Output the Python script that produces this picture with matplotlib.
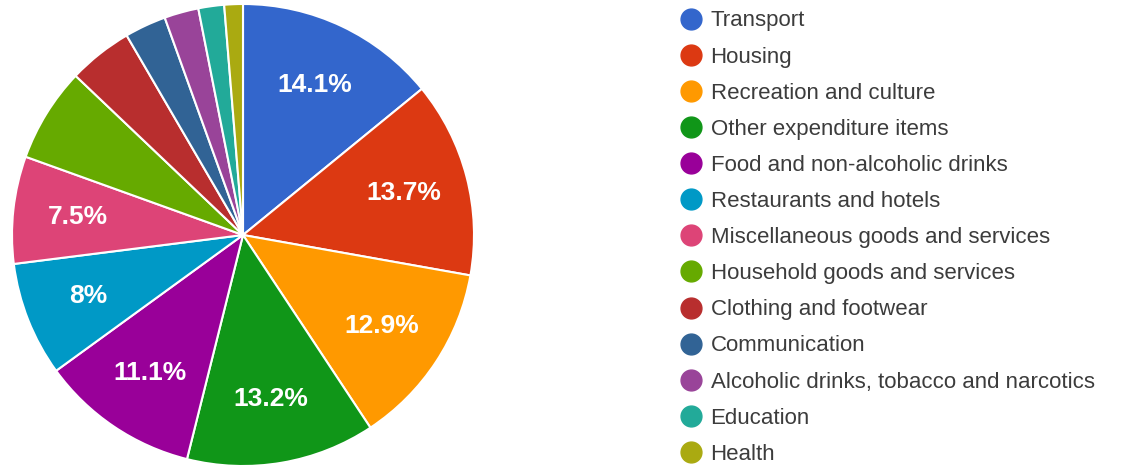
import matplotlib
matplotlib.use("Agg")
import matplotlib.pyplot as plt
from matplotlib.lines import Line2D

categories = ["Transport", "Housing", "Recreation and culture", "Other expenditure items",
              "Food and non-alcoholic drinks", "Restaurants and hotels",
              "Miscellaneous goods and services", "Household goods and services",
              "Clothing and footwear", "Communication",
              "Alcoholic drinks, tobacco and narcotics", "Education", "Health"]
shares = [14.1, 13.7, 12.9, 13.2, 11.1, 8.0, 7.5, 6.6, 4.5, 2.9, 2.4, 1.8, 1.3]
colors = ["#3366cc", "#dc3912", "#ff9900", "#109618", "#990099", "#0099c6", "#dd4477",
          "#66aa00", "#b82e2e", "#316395", "#994499", "#22aa99", "#aaaa11"]

plt.rcParams['font.family'] = ['Liberation Sans', 'DejaVu Sans']

W, H = 1124, 468
fig = plt.figure(figsize=(W / 100, H / 100), dpi=100)
cx, cy, r = 243, 233, 231
ax = fig.add_axes([(cx - r) / W, (cy - r) / H, 2 * r / W, 2 * r / H])

def fmt(p):
    if p < 7.0:
        return ""
    s = f"{p:.1f}"
    if s.endswith(".0"):
        s = s[:-2]
    return s + "%"

wedges, texts, autotexts = ax.pie(shares, colors=colors, startangle=90, counterclock=False,
                                  autopct=fmt, pctdistance=0.72, radius=1.0,
                                  wedgeprops=dict(edgecolor="white", linewidth=1.5),
                                  textprops=dict(color="white", fontsize=19, fontweight="bold"))
ax.set_xlim(-1, 1)
ax.set_ylim(-1, 1)
ax.set_aspect("equal")
ax.axis("off")

handles = [Line2D([0], [0], marker="o", linestyle="", markersize=15,
                  markerfacecolor=c, markeredgecolor=c) for c in colors]
leg = fig.legend(handles, categories, loc="upper left",
                 bbox_to_anchor=(675 / W, 1 - 6 / H), frameon=False,
                 fontsize=16, labelspacing=0.68, handletextpad=0.4,
                 handlelength=1.0, borderpad=0.2, borderaxespad=0.0)
for t in leg.get_texts():
    t.set_color("#3c3c3c")

fig.savefig("out.png", dpi=100)
